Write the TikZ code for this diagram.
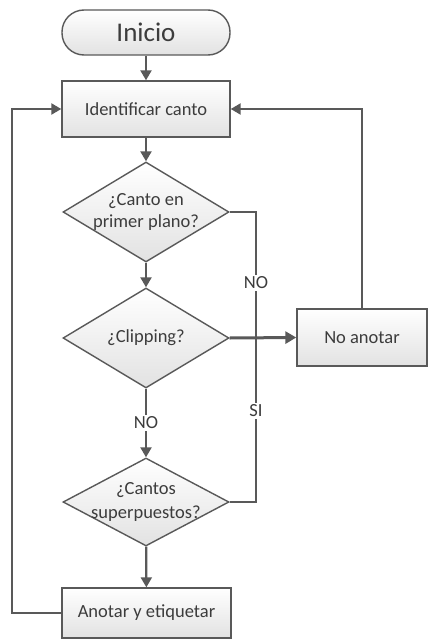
\documentclass[tikz,border=0pt]{standalone}
\usepackage{fontspec}
\setmainfont{Carlito}
\usetikzlibrary{shapes.geometric,arrows.meta}
\definecolor{ln}{HTML}{595959}
\definecolor{tx}{HTML}{3C3C3C}
\definecolor{fb}{HTML}{E2E2E2}
\begin{document}
\begin{tikzpicture}[x=1pt,y=-1pt,
  box/.style={draw=ln,line width=1.4pt,top color=white,bottom color=fb,inner sep=0pt,
    font=\fontsize{18.5}{21}\selectfont,text=tx},
  dia/.style={diamond,draw=ln,line width=1.4pt,top color=white,bottom color=fb,
    minimum width=166pt,minimum height=100pt,inner sep=0pt},
  lbl/.style={font=\fontsize{18.5}{22}\selectfont,text=tx,align=center,inner sep=0pt},
  yn/.style={font=\fontsize{18.5}{21}\selectfont,text=tx,fill=white,inner sep=2pt},
  conn/.style={draw=ln,line width=2.2pt},
  arr/.style={conn,-{Triangle[length=10pt,width=11pt]}},
]
\useasboundingbox (0,0) rectangle (428,642);
\fill[white] (0,0) rectangle (428,642);

% nodes
\node[box,rounded corners=22pt,minimum width=168pt,minimum height=45pt,
      font=\fontsize{27}{30}\selectfont] (ini) at (146,32.5) {Inicio};
\node[box,minimum width=168pt,minimum height=56pt] (ide) at (146,109) {Identificar canto};
\node[dia] (d1) at (146,212) {};
\node[lbl] (d1t) at (146,212) {¿Canto en\\primer plano?};
\node[dia] (d2) at (146,338) {};
\node[lbl] (d2t) at (146,338) {¿Clipping?};
\node[dia,minimum height=88pt] (d3) at (146,502) {};
\node[lbl,font=\fontsize{18.5}{24}\selectfont] (d3t) at (146,502) {¿Cantos\\superpuestos?};
\node[box,minimum width=169pt,minimum height=50pt] (ano) at (146.5,613) {Anotar y etiquetar};
\node[box,minimum width=130pt,minimum height=57pt] (noa) at (362,337.5) {No anotar};

\coordinate (lft) at (12,0);
\coordinate (rgt) at (256,0);

% connectors
\draw[arr] (ini) -- (ide);
\draw[arr] (ide) -- (d1);
\draw[arr] (d1) -- (d2);
\draw[arr] (d2) -- (d3);
\draw[arr] (d3) -- (ano);
\draw[arr] (ano.west) -- (ano.west -| lft) -- (ide.west -| lft) -- (ide.west);
\draw[arr] (noa.north) -- (noa.north |- ide.east) -- (ide.east);
\draw[conn] (d1.east) -- (d1.east -| rgt) -- (d3.east -| rgt) -- (d3.east);
\draw[conn,line width=3pt,-{Triangle[length=11pt,width=12pt]}] (d2.east) -- (noa.west);

% labels
\node[yn] (no1) at (256,283) {NO};
\node[yn] (si1) at (256,411) {SI};
\node[yn] (no2) at (146,423) {NO};
\end{tikzpicture}
\end{document}
